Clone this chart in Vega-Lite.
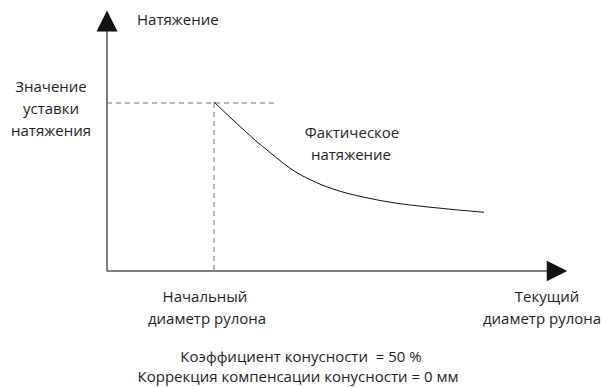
{
  "$schema": "https://vega.github.io/schema/vega-lite/v6.json",
  "width": 614,
  "height": 387,
  "autosize": {"type": "none"},
  "padding": 0,
  "background": "white",
  "config": {"view": {"stroke": null}, "text": {"font": "Open Sans", "fontSize": 15, "color": "#231f20"}},
  "datasets": {
    "axes": [
      {"x": 107, "y": 30, "x2": 107, "y2": 271},
      {"x": 107, "y": 271, "x2": 548, "y2": 271}
    ],
    "dashes": [
      {"x": 107, "y": 103, "x2": 277, "y2": 103},
      {"x": 214, "y": 103, "x2": 214, "y2": 271}
    ],
    "curve": [
      {"x": 214, "y": 102},
      {"x": 224, "y": 111.5},
      {"x": 233, "y": 120},
      {"x": 245, "y": 131},
      {"x": 256, "y": 141},
      {"x": 267, "y": 150},
      {"x": 278, "y": 159},
      {"x": 289, "y": 167.5},
      {"x": 300, "y": 174.5},
      {"x": 311, "y": 180},
      {"x": 322, "y": 185},
      {"x": 333, "y": 189},
      {"x": 348, "y": 193.5},
      {"x": 363, "y": 197},
      {"x": 380, "y": 200.5},
      {"x": 397, "y": 203.3},
      {"x": 413, "y": 205.3},
      {"x": 430, "y": 207.2},
      {"x": 456, "y": 209.8},
      {"x": 484, "y": 212.3}
    ],
    "arrows": [
      {"x": 107, "y": 21, "dir": "up"},
      {"x": 557, "y": 271, "dir": "right"}
    ],
    "labels": [
      {"x": 137, "y": 20, "t": "Натяжение", "a": "left"},
      {"x": 51, "y": 87, "t": "Значение", "a": "center"},
      {"x": 51, "y": 109, "t": "уставки", "a": "center"},
      {"x": 51, "y": 131, "t": "натяжения", "a": "center"},
      {"x": 352, "y": 133, "t": "Фактическое", "a": "center"},
      {"x": 351, "y": 155, "t": "натяжение", "a": "center"},
      {"x": 205, "y": 297, "t": "Начальный", "a": "center"},
      {"x": 207, "y": 319, "t": "диаметр рулона", "a": "center"},
      {"x": 547, "y": 297, "t": "Текущий", "a": "center"},
      {"x": 542, "y": 319, "t": "диаметр рулона", "a": "center"},
      {"x": 301, "y": 357, "t": "Коэффициент конусности\u00a0\u00a0= 50 %", "a": "center"},
      {"x": 298, "y": 377, "t": "Коррекция компенсации конусности = 0 мм", "a": "center"}
    ]
  },
  "encoding": {
    "x": {"field": "x", "type": "quantitative", "scale": {"domain": [0, 614], "nice": false, "zero": false}, "axis": null},
    "y": {"field": "y", "type": "quantitative", "scale": {"domain": [0, 387], "nice": false, "zero": false, "reverse": true}, "axis": null}
  },
  "layer": [
    {
      "data": {"name": "axes"},
      "mark": {"type": "rule", "color": "#555", "strokeWidth": 1.5},
      "encoding": {"x2": {"field": "x2"}, "y2": {"field": "y2"}}
    },
    {
      "data": {"name": "dashes"},
      "mark": {"type": "rule", "color": "#777", "strokeWidth": 1, "strokeDash": [5, 4]},
      "encoding": {"x2": {"field": "x2"}, "y2": {"field": "y2"}}
    },
    {
      "data": {"name": "curve"},
      "mark": {"type": "line", "color": "#111", "strokeWidth": 1, "interpolate": "monotone"},
      "encoding": {"order": {"field": "x", "type": "quantitative"}}
    },
    {
      "data": {"name": "arrows"},
      "transform": [{"filter": "datum.dir === 'up'"}],
      "mark": {"type": "point", "shape": "M-1,1L0,-1L1,1Z", "filled": true, "color": "#111", "opacity": 1, "size": 441, "strokeWidth": 0}
    },
    {
      "data": {"name": "arrows"},
      "transform": [{"filter": "datum.dir === 'right'"}],
      "mark": {"type": "point", "shape": "M-1,-1L1,0L-1,1Z", "filled": true, "color": "#111", "opacity": 1, "size": 420, "strokeWidth": 0}
    },
    {
      "data": {"name": "labels"},
      "transform": [{"filter": "datum.a === 'left'"}],
      "mark": {"type": "text", "align": "left", "baseline": "middle"},
      "encoding": {"text": {"field": "t"}}
    },
    {
      "data": {"name": "labels"},
      "transform": [{"filter": "datum.a === 'center'"}],
      "mark": {"type": "text", "align": "center", "baseline": "middle"},
      "encoding": {"text": {"field": "t"}}
    }
  ]
}
